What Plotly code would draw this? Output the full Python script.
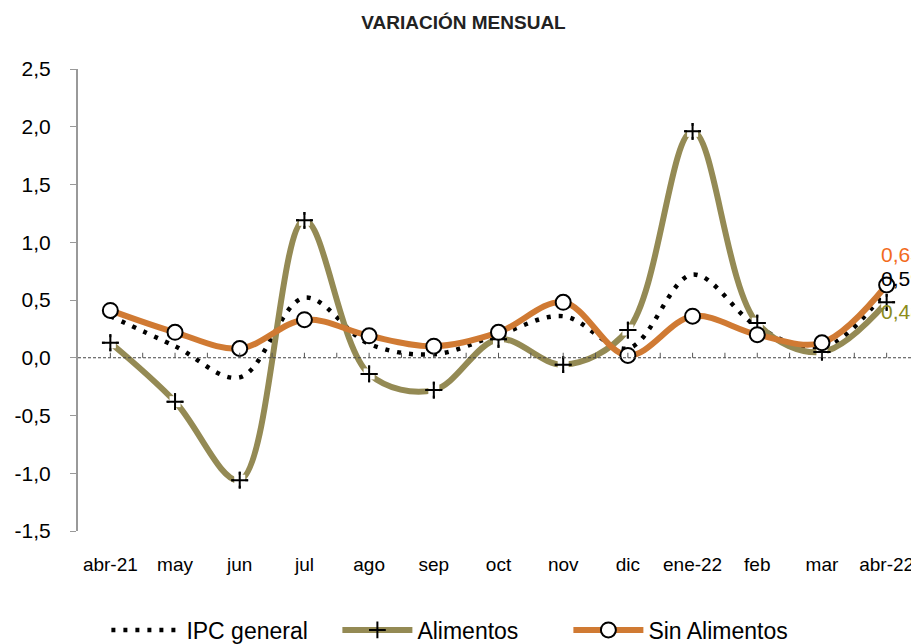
import plotly.graph_objects as go

months = ["abr-21", "may", "jun", "jul", "ago", "sep", "oct", "nov", "dic", "ene-22", "feb", "mar", "abr-22"]
ipc_general = [0.36, 0.10, -0.17, 0.52, 0.12, 0.03, 0.20, 0.36, 0.08, 0.72, 0.27, 0.08, 0.59]
alimentos = [0.13, -0.38, -1.06, 1.19, -0.14, -0.28, 0.16, -0.06, 0.24, 1.96, 0.30, 0.05, 0.48]
sin_alimentos = [0.41, 0.22, 0.08, 0.33, 0.19, 0.10, 0.22, 0.48, 0.02, 0.36, 0.20, 0.13, 0.63]
y_ticks = [-1.5, -1.0, -0.5, 0.0, 0.5, 1.0, 1.5, 2.0, 2.5]
y_tick_text = ["-1,5", "-1,0", "-0,5", "0,0", "0,5", "1,0", "1,5", "2,0", "2,5"]

x = list(range(len(months)))
FONT = "Liberation Sans, Arial, sans-serif"
PLUS = dict(symbol="cross-thin", size=12, line=dict(color="black", width=2), color="black")

fig = go.Figure()
fig.add_trace(go.Scatter(
    x=x, y=ipc_general, name="IPC general", mode="lines",
    line=dict(color="black", width=4.5, dash="4px,8px", shape="spline", smoothing=1.0),
))
fig.add_trace(go.Scatter(
    x=x, y=alimentos, name="Alimentos", mode="lines+markers",
    line=dict(color="#948A54", width=6, shape="spline", smoothing=1.0),
    marker=PLUS,
))
# white background behind the plus markers
fig.add_trace(go.Scatter(
    x=x, y=alimentos, mode="markers", showlegend=False, hoverinfo="skip",
    marker=dict(symbol="square", size=11, color="white", line=dict(width=0)),
))
fig.add_trace(go.Scatter(
    x=x, y=alimentos, mode="markers", showlegend=False, name="Alimentos",
    marker=PLUS,
))
fig.add_trace(go.Scatter(
    x=x, y=sin_alimentos, name="Sin Alimentos", mode="lines+markers",
    line=dict(color="#D07A33", width=6, shape="spline", smoothing=1.0),
    marker=dict(symbol="circle", size=15, color="white", line=dict(color="black", width=2)),
))

# small tick marks on the zero line at every half category
shapes = []
for i in range(2 * len(months) - 1):
    shapes.append(dict(type="line", xref="x", yref="y", x0=i / 2, x1=i / 2,
                       ysizemode="pixel", yanchor=0, y0=0, y1=5,
                       line=dict(color="#555555", width=1)))
shapes.append(dict(type="line", xref="paper", yref="y", x0=0, x1=1, y0=0, y1=0,
                   line=dict(color="#444444", width=1, dash="3px,2px")))

last = len(months) - 1
annotations = [
    dict(x=last, y=sin_alimentos[-1], text="0,63", font=dict(color="#F26B1D", size=21, family=FONT),
         xanchor="left", yanchor="middle", showarrow=False, xshift=-8, yshift=30),
    dict(x=last, y=ipc_general[-1], text="0,59", font=dict(color="black", size=21, family=FONT),
         xanchor="left", yanchor="middle", showarrow=False, xshift=-8, yshift=11),
    dict(x=last, y=alimentos[-1], text="0,48", font=dict(color="#8C8C1A", size=21, family=FONT),
         xanchor="left", yanchor="middle", showarrow=False, xshift=-8, yshift=-9),
]

fig.update_layout(
    width=911, height=636,
    margin=dict(l=70, r=0, t=61, b=113, autoexpand=False),
    paper_bgcolor="white", plot_bgcolor="white",
    title=dict(text="<b>VARIACIÓN MENSUAL</b>", x=0.5, xref="container", xanchor="center",
               y=0.978, yref="container", yanchor="middle",
               font=dict(family=FONT, size=19, color="#222222")),
    font=dict(family=FONT, color="black"),
    xaxis=dict(range=[-0.5, len(months) - 0.5], tickvals=x, ticktext=months,
               showgrid=False, zeroline=False, showline=False, ticks="", automargin=False,
               ticklabelstandoff=20, tickfont=dict(size=19, family=FONT)),
    yaxis=dict(range=[-1.5, 2.5], tickvals=y_ticks, ticktext=y_tick_text, automargin=False,
               showgrid=False, zeroline=False, showline=True, linecolor="#999999", linewidth=2,
               ticks="outside", ticklen=6, tickcolor="#999999", tickwidth=1,
               ticklabelstandoff=15, tickfont=dict(size=21, family=FONT)),
    legend=dict(orientation="h", xref="container", x=0.108, xanchor="left",
                yref="container", y=0.022, yanchor="middle",
                font=dict(size=23, family=FONT), itemwidth=70,
                entrywidth=146, entrywidthmode="pixels", traceorder="normal"),
    shapes=shapes,
    annotations=annotations,
    showlegend=True,
)

fig.write_html("out.html")
